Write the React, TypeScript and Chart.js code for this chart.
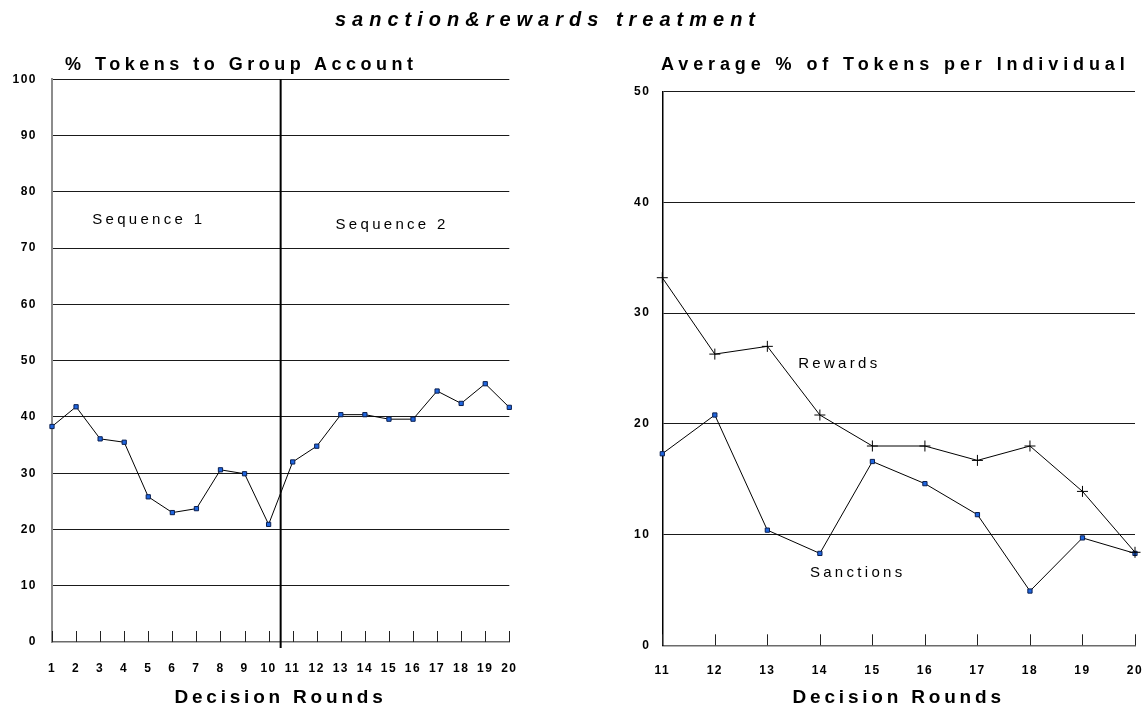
import React, { useEffect, useRef } from 'react';
import { Chart, registerables } from 'chart.js';

Chart.register(...registerables);

// ---- data ----
const leftRounds = [1, 2, 3, 4, 5, 6, 7, 8, 9, 10, 11, 12, 13, 14, 15, 16, 17, 18, 19, 20];
const groupAccount = [38.3, 41.8, 36.1, 35.5, 25.8, 23.0, 23.7, 30.6, 29.9, 20.9, 32.0, 34.8, 40.4, 40.4, 39.6, 39.6, 44.6, 42.4, 45.9, 41.7];
const leftYTicks = [0, 10, 20, 30, 40, 50, 60, 70, 80, 90, 100];

const rightRounds = [11, 12, 13, 14, 15, 16, 17, 18, 19, 20];
const rewards = [33.2, 26.3, 27.0, 20.8, 18.0, 18.0, 16.7, 18.0, 13.9, 8.4];
const sanctions = [17.3, 20.8, 10.4, 8.3, 16.6, 14.6, 11.8, 4.9, 9.7, 8.3];
const rightYTicks = [0, 10, 20, 30, 40, 50];

const sequenceBreak = 10.5;
const leftNotes = [
  { text: 'Sequence 1', x: 5.02, y: 75 },
  { text: 'Sequence 2', x: 15.13, y: 74.2 },
];
const rightNotes = [
  { text: 'Rewards', x: 14.37, y: 25.4 },
  { text: 'Sanctions', x: 14.72, y: 6.5 },
];

const mainTitle = 'sanction&rewards treatment';
const leftTitle = '% Tokens to Group Account';
const rightTitle = 'Average % of Tokens per Individual';
const xTitle = 'Decision Rounds';

const FONT = '"Liberation Sans", Arial, Helvetica, sans-serif';
const W = 1145;
const H = 713;

// ---- plugins ----
const spacingPlugin = {
  id: 'spacing',
  beforeDraw(chart: any) {
    (chart.ctx as any).letterSpacing = '1.5px';
  },
  afterDraw(chart: any) {
    (chart.ctx as any).letterSpacing = '0px';
  },
};

const innerTicksPlugin = {
  id: 'innerTicks',
  afterDraw(chart: any) {
    const { ctx, chartArea } = chart;
    const xs = chart.scales.x;
    ctx.save();
    ctx.strokeStyle = '#222';
    ctx.lineWidth = 1;
    xs.ticks.forEach((t: any) => {
      const px = Math.round(xs.getPixelForValue(t.value)) + 0.5;
      ctx.beginPath();
      ctx.moveTo(px, chartArea.bottom - 11);
      ctx.lineTo(px, chartArea.bottom);
      ctx.stroke();
    });
    ctx.restore();
  },
};

const dividerPlugin = {
  id: 'divider',
  afterDatasetsDraw(chart: any) {
    const { ctx, chartArea } = chart;
    const px = chart.scales.x.getPixelForValue(sequenceBreak);
    ctx.save();
    ctx.strokeStyle = '#000';
    ctx.lineWidth = 2;
    ctx.beginPath();
    ctx.moveTo(px, chartArea.top);
    ctx.lineTo(px, chartArea.bottom + 6);
    ctx.stroke();
    ctx.restore();
  },
};

function notesPlugin(notes: { text: string; x: number; y: number }[]) {
  return {
    id: 'notes',
    afterDatasetsDraw(chart: any) {
      const { ctx } = chart;
      ctx.save();
      (ctx as any).letterSpacing = '3.3px';
      ctx.font = `15px ${FONT}`;
      ctx.fillStyle = '#000';
      ctx.textAlign = 'center';
      ctx.textBaseline = 'middle';
      notes.forEach((n) => {
        ctx.fillText(n.text, chart.scales.x.getPixelForValue(n.x), chart.scales.y.getPixelForValue(n.y));
      });
      ctx.restore();
    },
  };
}

const tickFont = { family: FONT, size: 12, weight: 'bold' as const };

function LeftChart() {
  const ref = useRef<HTMLCanvasElement>(null);
  useEffect(() => {
    const canvasW = 600;
    const chart = new Chart(ref.current!, {
      type: 'line',
      data: {
        datasets: [
          {
            data: groupAccount.map((y, i) => ({ x: leftRounds[i], y })),
            borderColor: '#000',
            borderWidth: 1,
            pointStyle: 'rect',
            pointRadius: 3,
            pointBackgroundColor: '#1f66e0',
            pointBorderColor: '#0b1f4f',
            pointBorderWidth: 1,
            tension: 0,
            clip: false as any,
          },
        ],
      },
      options: {
        responsive: false,
        animation: false,
        layout: { padding: { left: 0, right: canvasW - 509.3, top: 79.3, bottom: 0 } },
        plugins: { legend: { display: false }, tooltip: { enabled: false }, title: { display: false } },
        scales: {
          x: {
            type: 'linear',
            min: leftRounds[0],
            max: leftRounds[leftRounds.length - 1],
            afterBuildTicks: (s: any) => {
              s.ticks = leftRounds.map((v) => ({ value: v }));
            },
            afterFit: (s: any) => {
              s.height = H - 642;
              s.paddingLeft = 0;
              s.paddingRight = 0;
            },
            grid: { display: false },
            border: { color: '#6b6b6b', width: 1.5 },
            ticks: { padding: 11, font: tickFont, color: '#000', autoSkip: false, maxRotation: 0 },
          },
          y: {
            min: 0,
            max: 100,
            afterBuildTicks: (s: any) => {
              s.ticks = leftYTicks.map((v) => ({ value: v }));
            },
            afterFit: (s: any) => {
              s.width = 52;
              s.paddingTop = 0;
              s.paddingBottom = 0;
            },
            grid: {
              drawTicks: false,
              lineWidth: 1,
              color: (c: any) => (c.tick && c.tick.value === 0 ? 'rgba(0,0,0,0)' : '#1a1a1a'),
            },
            border: { color: '#8c8c8c', width: 2 },
            ticks: { padding: 15, font: tickFont, color: '#000' },
          },
        },
      },
      plugins: [spacingPlugin, innerTicksPlugin, dividerPlugin, notesPlugin(leftNotes)],
    });
    return () => chart.destroy();
  }, []);
  return <canvas ref={ref} width={600} height={H} style={{ position: 'absolute', left: 0, top: 0 }} />;
}

function RightChart() {
  const ref = useRef<HTMLCanvasElement>(null);
  useEffect(() => {
    const offset = 600;
    const chart = new Chart(ref.current!, {
      type: 'line',
      data: {
        datasets: [
          {
            data: rewards.map((y, i) => ({ x: rightRounds[i], y })),
            borderColor: '#000',
            borderWidth: 1,
            pointStyle: 'cross',
            pointRadius: 5.5,
            pointBorderColor: '#000',
            pointBorderWidth: 1,
            tension: 0,
            clip: false as any,
          },
          {
            data: sanctions.map((y, i) => ({ x: rightRounds[i], y })),
            borderColor: '#000',
            borderWidth: 1,
            pointStyle: 'rect',
            pointRadius: 3,
            pointBackgroundColor: '#1f66e0',
            pointBorderColor: '#0b1f4f',
            pointBorderWidth: 1,
            tension: 0,
            clip: false as any,
          },
        ],
      },
      options: {
        responsive: false,
        animation: false,
        layout: { padding: { left: 0, right: W - 1135, top: 91.7, bottom: 0 } },
        plugins: { legend: { display: false }, tooltip: { enabled: false }, title: { display: false } },
        scales: {
          x: {
            type: 'linear',
            min: rightRounds[0],
            max: rightRounds[rightRounds.length - 1],
            afterBuildTicks: (s: any) => {
              s.ticks = rightRounds.map((v) => ({ value: v }));
            },
            afterFit: (s: any) => {
              s.height = H - 645.3;
              s.paddingLeft = 0;
              s.paddingRight = 0;
            },
            grid: { display: false },
            border: { color: '#6b6b6b', width: 1.5 },
            ticks: { padding: 10, font: tickFont, color: '#000', autoSkip: false, maxRotation: 0 },
          },
          y: {
            min: 0,
            max: 50,
            afterBuildTicks: (s: any) => {
              s.ticks = rightYTicks.map((v) => ({ value: v }));
            },
            afterFit: (s: any) => {
              s.width = 662.3 - offset;
              s.paddingTop = 0;
              s.paddingBottom = 0;
            },
            grid: {
              drawTicks: false,
              lineWidth: 1,
              color: (c: any) => (c.tick && c.tick.value === 0 ? 'rgba(0,0,0,0)' : '#1a1a1a'),
            },
            border: { color: '#000', width: 1.5 },
            ticks: { padding: 12, font: tickFont, color: '#000' },
          },
        },
      },
      plugins: [spacingPlugin, innerTicksPlugin, notesPlugin(rightNotes)],
    });
    return () => chart.destroy();
  }, []);
  return <canvas ref={ref} width={W - 600} height={H} style={{ position: 'absolute', left: 600, top: 0 }} />;
}

const textBase: React.CSSProperties = {
  position: 'absolute',
  fontFamily: FONT,
  fontWeight: 'bold',
  color: '#000',
  lineHeight: 1,
  whiteSpace: 'nowrap',
  margin: 0,
};

export default function App() {
  return (
    <div style={{ position: 'absolute', left: 0, top: 0, width: W, height: H, background: '#fff', overflow: 'hidden' }}>
      <LeftChart />
      <RightChart />
      <div style={{ ...textBase, left: 0, width: 1096, textAlign: 'center', top: 8.5, fontSize: 20, fontStyle: 'italic', letterSpacing: '6px' }}>
        {mainTitle}
      </div>
      <div style={{ ...textBase, left: 65, top: 55.2, fontSize: 18, letterSpacing: '4.5px' }}>{leftTitle}</div>
      <div style={{ ...textBase, left: 661, top: 55.2, fontSize: 18, letterSpacing: '4.9px' }}>{rightTitle}</div>
      <div style={{ ...textBase, left: 0, width: 561, textAlign: 'center', top: 686.7, fontSize: 19, letterSpacing: '3.8px' }}>
        {xTitle}
      </div>
      <div style={{ ...textBase, left: 0, width: 1797.4, textAlign: 'center', top: 686.7, fontSize: 19, letterSpacing: '3.8px' }}>
        {xTitle}
      </div>
    </div>
  );
}
